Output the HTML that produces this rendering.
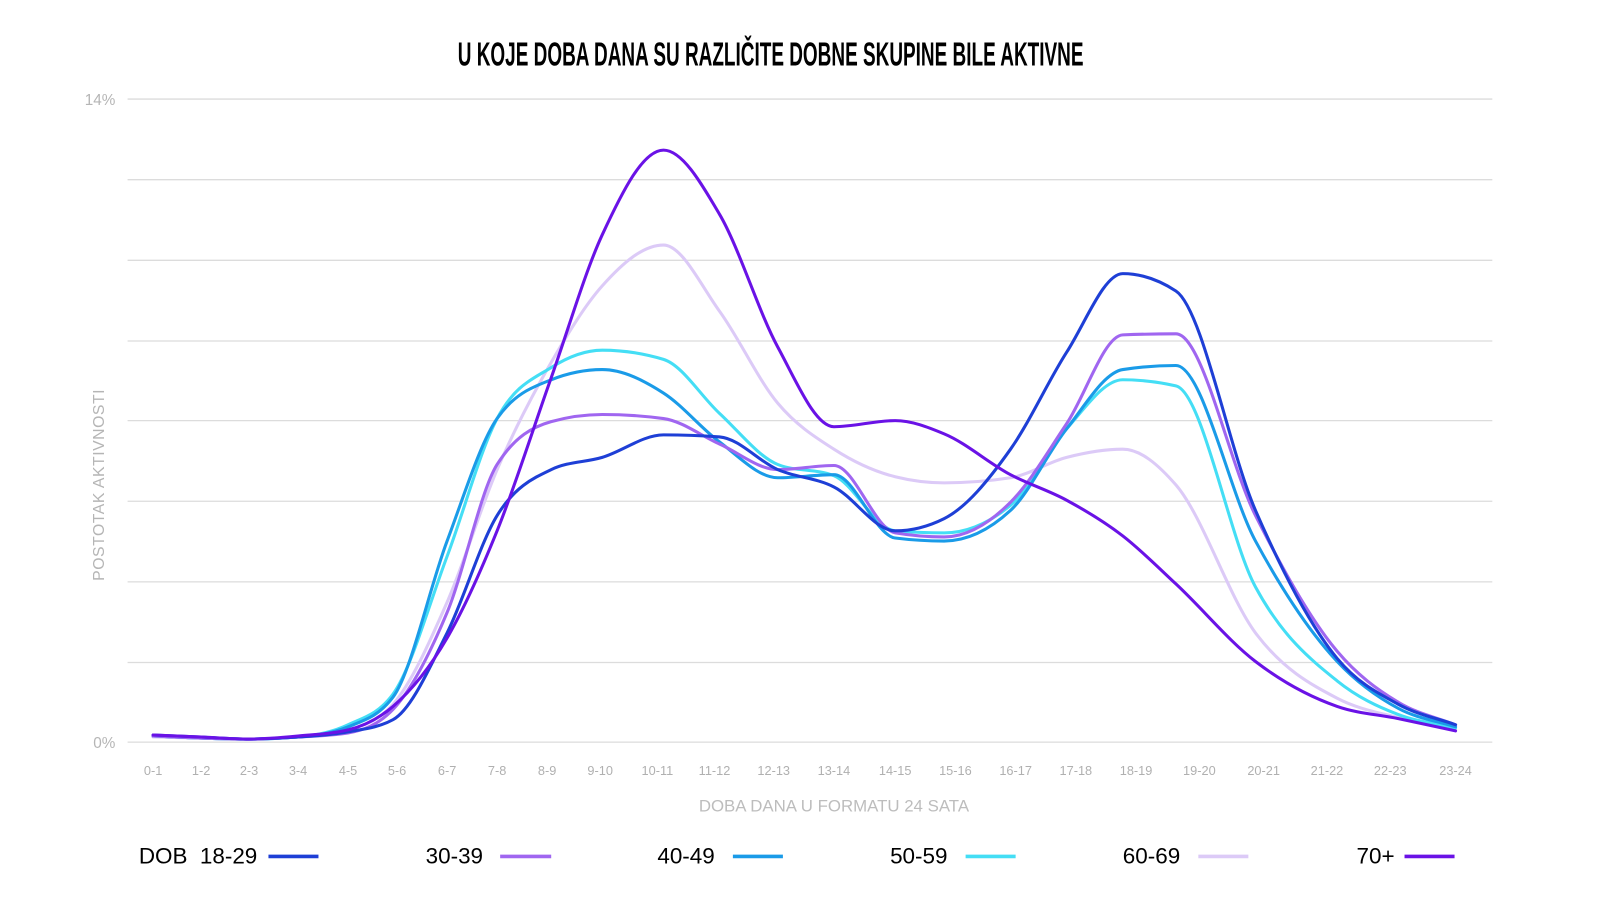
<!DOCTYPE html>
<html><head><meta charset="utf-8">
<style>
html,body{margin:0;padding:0;background:#fff;width:1600px;height:900px;overflow:hidden}
svg{display:block}
</style></head>
<body>
<svg id="c" width="1600" height="900" viewBox="0 0 1567.5 881.6" xmlns="http://www.w3.org/2000/svg" font-family="Liberation Sans, sans-serif">
<text x="755" y="64" text-anchor="middle" font-family="Liberation Sans Narrow, Liberation Sans, sans-serif" font-weight="bold" font-size="33" fill="#000" transform="translate(755 0) scale(0.563 1) translate(-755 0)">U KOJE DOBA DANA SU RAZLIČITE DOBNE SKUPINE BILE AKTIVNE</text>
<g stroke="#dcdcdc" stroke-width="1.3">
<line x1="125" x2="1462" y1="97" y2="97"/><line x1="125" x2="1462" y1="176" y2="176"/>
<line x1="125" x2="1462" y1="255" y2="255"/><line x1="125" x2="1462" y1="334" y2="334"/>
<line x1="125" x2="1462" y1="412" y2="412"/><line x1="125" x2="1462" y1="491" y2="491"/>
<line x1="125" x2="1462" y1="570" y2="570"/><line x1="125" x2="1462" y1="649" y2="649"/>
<line x1="125" x2="1462" y1="727" y2="727"/>
</g>
<text x="113" y="103" text-anchor="end" font-size="15" fill="#b5b5b5">14%</text>
<text x="113" y="733" text-anchor="end" font-size="15" fill="#b5b5b5">0%</text>
<text transform="translate(102 475) rotate(-90)" text-anchor="middle" font-size="15.5" fill="#b5b5b5" letter-spacing="0.5">POSTOTAK AKTIVNOSTI</text>
<g id="xl" font-size="12.5" fill="#b0b0b0" text-anchor="middle"></g>
<text x="817" y="795" text-anchor="middle" font-size="16.5" fill="#bdbdbd">DOBA DANA U FORMATU 24 SATA</text>
<g id="series" fill="none" stroke-width="3" stroke-linejoin="round" stroke-linecap="round"></g>
<g font-size="22" fill="#000">
<text x="136" y="846" xml:space="preserve">DOB  18-29</text><line x1="263" x2="312" y1="839" y2="839" stroke="#1e3fd6" stroke-width="3.5"/>
<text x="417" y="846">30-39</text><line x1="490" x2="540" y1="839" y2="839" stroke="#a066f0" stroke-width="3.5"/>
<text x="644" y="846">40-49</text><line x1="718" x2="767" y1="839" y2="839" stroke="#1a9be8" stroke-width="3.5"/>
<text x="872" y="846">50-59</text><line x1="946" x2="995" y1="839" y2="839" stroke="#44def5" stroke-width="3.5"/>
<text x="1100" y="846">60-69</text><line x1="1174" x2="1223" y1="839" y2="839" stroke="#dccaf7" stroke-width="3.5"/>
<text x="1329" y="846">70+</text><line x1="1376" x2="1425" y1="839" y2="839" stroke="#6a12e6" stroke-width="3.5"/>
</g>
</svg>
<script>
var X=[150,197,244,292,341,385,438,487,540,590,650,705,762,817,877,925,990,1045,1100,1152,1230,1310,1370,1426];
var XL=[150,197,244,292,341,389,438,487,536,588,644,700,758,817,877,936,995,1054,1113,1175,1238,1300,1362,1426];
var L=["0-1","1-2","2-3","3-4","4-5","5-6","6-7","7-8","8-9","9-10","10-11","11-12","12-13","13-14","14-15","15-16","16-17","17-18","18-19","19-20","20-21","21-22","22-23","23-24"];
var ns="http://www.w3.org/2000/svg";
var xl=document.getElementById('xl');
XL.forEach(function(x,i){var t=document.createElementNS(ns,'text');t.setAttribute('x',x);t.setAttribute('y',759);t.textContent=L[i];xl.appendChild(t);});
var S=[
["#dccaf7",[722,723,724,722,715,690,590,460,355,280,240,305,395,440,467,473,468,448,440,475,620,684,703,714]],
["#44def5",[721,723,724,722,710,680,545,410,360,343,352,405,455,466,520,522,495,420,372,378,575,667,700,713]],
["#1a9be8",[721,723,724,722,712,683,530,410,372,362,385,433,468,465,527,530,500,420,362,358,530,648,694,712]],
["#a066f0",[721,723,724,722,718,695,600,455,413,406,410,435,460,456,522,526,492,415,328,327,505,638,688,710]],
["#1e3fd6",[720,722,724,722,717,705,620,505,460,448,426,428,460,477,520,508,440,345,268,285,500,645,690,710]],
["#6a12e6",[720,722,724,721,715,692,625,520,370,230,147,210,340,418,412,425,465,490,525,572,648,692,704,716]]
];
function mono(X,Y){
 var n=X.length,dx=[],m=[],t=[];
 for(var i=0;i<n-1;i++){dx[i]=X[i+1]-X[i];m[i]=(Y[i+1]-Y[i])/dx[i];}
 t[0]=m[0];t[n-1]=m[n-2];
 for(var i=1;i<n-1;i++){
  if(m[i-1]*m[i]<=0)t[i]=0;
  else{var p=(m[i-1]*dx[i]+m[i]*dx[i-1])/(dx[i-1]+dx[i]);
   t[i]=(Math.sign(m[i-1])+Math.sign(m[i]))*Math.min(Math.abs(m[i-1]),Math.abs(m[i]),0.5*Math.abs(p));}
 }
 var d="M"+X[0]+" "+Y[0];
 for(var i=0;i<n-1;i++){var h=dx[i]/3;
  d+=" C"+(X[i]+h)+" "+(Y[i]+h*t[i])+" "+(X[i+1]-h)+" "+(Y[i+1]-h*t[i+1])+" "+X[i+1]+" "+Y[i+1];}
 return d;
}
var g=document.getElementById('series');
S.forEach(function(s){
 var p=document.createElementNS(ns,'path');p.setAttribute('d',mono(X,s[1]));p.setAttribute('stroke',s[0]);g.appendChild(p);
});
</script>
</body></html>
